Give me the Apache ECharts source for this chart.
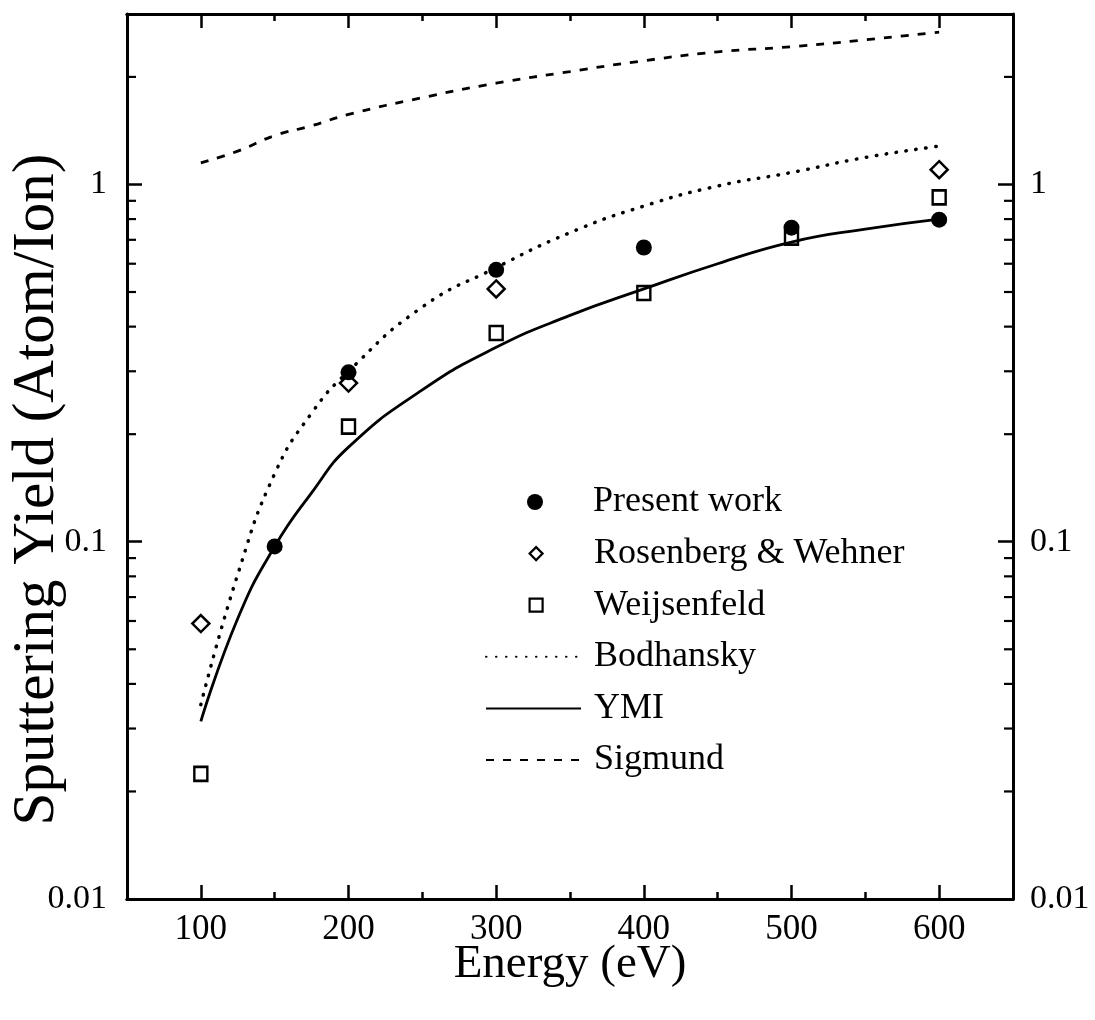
<!DOCTYPE html>
<html>
<head>
<meta charset="utf-8">
<title>Sputtering yield vs energy</title>
<script src="https://cdn.jsdelivr.net/npm/echarts@6/dist/echarts.min.js"></script>
<style>
  html, body { margin: 0; padding: 0; background: #fff; }
  #main { width: 1095px; height: 1020px; }
</style>
</head>
<body>
<div id="main"></div>
<script>
// measured points (energy in eV, yield in atom/ion)
var presentE = [150, 200, 300, 400, 500, 600];
var presentY = [0.097, 0.298, 0.577, 0.666, 0.757, 0.797];
var rosenE = [100, 200, 300, 600];
var rosenY = [0.059, 0.278, 0.51, 1.10];
var weijE = [100, 200, 300, 400, 500, 600];
var weijY = [0.0224, 0.21, 0.384, 0.497, 0.71, 0.92];

// model curves
var curveE = [100, 125, 150, 175, 200, 250, 300, 350, 400, 450, 500, 550, 600];
var bodhY = [0.035, 0.081, 0.155, 0.229, 0.30, 0.454, 0.585, 0.733, 0.87, 0.99, 1.08, 1.19, 1.28];
var ymiY = [0.0314, 0.061, 0.097, 0.137, 0.184, 0.266, 0.35, 0.43, 0.51, 0.60, 0.69, 0.75, 0.80];
var sigY = [1.15, 1.24, 1.37, 1.46, 1.57, 1.75, 1.92, 2.07, 2.22, 2.35, 2.43, 2.54, 2.67];

// ticks
var xMajorTicks = [100, 200, 300, 400, 500, 600];
var xMinorTicks = [150, 250, 350, 450, 550];
var yTickLabels = ['0.01', '0.1', '1'];
var yMinorTicks = [0.02, 0.03, 0.04, 0.05, 0.06, 0.07, 0.08, 0.09,
                   0.2, 0.3, 0.4, 0.5, 0.6, 0.7, 0.8, 0.9, 2];

var legendNames = ['Present work', 'Rosenberg & Wehner', 'Weijsenfeld', 'Bodhansky', 'YMI', 'Sigmund'];

function pairs(xs, ys) {
    return xs.map(function (x, i) { return [x, ys[i]]; });
}

var FONT = 'Liberation Serif';
var X_MIN = 50, X_MAX = 650;

function yLabel(v) {
    var l = Math.log10(v);
    var e = Math.round(l);
    if (Math.abs(l - e) > 1e-6) return '';
    return yTickLabels[e + 2] || '';
}

function xAxisBase(pos, ticks, len, labels) {
    return {
        type: 'value', position: pos, min: X_MIN, max: X_MAX,
        axisLine: { show: true, onZero: false, lineStyle: { color: '#000', width: 3 } },
        splitLine: { show: false },
        axisTick: { show: true, inside: true, length: len, customValues: ticks,
                    lineStyle: { color: '#000', width: 2.5 } },
        axisLabel: labels ? {
            show: true, customValues: ticks, margin: 13,
            color: '#000', fontFamily: FONT, fontSize: 35
        } : { show: false }
    };
}

function yAxisBase(pos, showLabel) {
    return {
        type: 'log', logBase: 10, position: pos, min: 0.01, max: 3,
        axisLine: { show: true, onZero: false, lineStyle: { color: '#000', width: 3 } },
        splitLine: { show: false },
        minorTick: { show: false },
        axisTick: { show: true, inside: true, length: 15, lineStyle: { color: '#000', width: 2.5 } },
        axisLabel: {
            show: showLabel, formatter: yLabel, margin: pos === 'left' ? 20 : 17,
            color: '#000', fontFamily: FONT, fontSize: 34,
            showMaxLabel: false
        }
    };
}

var myChart = echarts.init(document.getElementById('main'), null, { renderer: 'canvas' });

var bottomAxis = xAxisBase('bottom', xMajorTicks, 14, true);
bottomAxis.name = 'Energy (eV)';
bottomAxis.nameLocation = 'middle';
bottomAxis.nameGap = 42;
bottomAxis.nameMoveOverlap = false;
bottomAxis.nameTextStyle = { color: '#000', fontFamily: FONT, fontSize: 47 };

var leftAxis = yAxisBase('left', true);
leftAxis.name = 'Sputtering Yield (Atom/Ion)';
leftAxis.nameLocation = 'middle';
leftAxis.nameGap = 60;
leftAxis.nameMoveOverlap = false;
leftAxis.nameTextStyle = { color: '#000', fontFamily: FONT, fontSize: 59, padding: [0, 66, 0, 0] };

var legends = legendNames.map(function (name, i) {
    var centre = 502 + i * 51.6;
    var isLine = i >= 3;
    var h = isLine ? 14 : (i === 0 ? 16 : 13);
    var w = isLine ? 95 : h;
    var left = isLine ? 485 : 535 - h / 2;
    var pad = 593 - (left + w + 5);
    return {
        data: [name],
        left: left,
        top: centre - 18,
        padding: 0,
        selectedMode: false,
        itemWidth: w,
        itemHeight: h,
        itemStyle: isLine ? { opacity: 0 } : (i === 0 ? { borderWidth: 0 } : { borderWidth: 2.2 }),
        textStyle: { color: '#000', fontFamily: FONT, fontSize: 36, padding: [0, 0, 0, pad] }
    };
});

// minor ticks on the log axes, drawn at both sides of the grid
function minorTickItem(params, api) {
    var cs = params.coordSys;
    var y = api.coord([api.value(0), api.value(1)])[1];
    var s = { stroke: '#000', lineWidth: 2.2 };
    return {
        type: 'group',
        children: [
            { type: 'line', shape: { x1: cs.x, y1: y, x2: cs.x + 9, y2: y }, style: s },
            { type: 'line', shape: { x1: cs.x + cs.width - 9, y1: y, x2: cs.x + cs.width, y2: y }, style: s }
        ]
    };
}

var option = {
    backgroundColor: '#fff',
    animation: false,
    grid: { left: 127, right: 82, top: 14, bottom: 121, containLabel: false, outerBoundsMode: 'none' },
    legend: legends,
    xAxis: [
        bottomAxis,
        xAxisBase('bottom', xMinorTicks, 7, false),
        xAxisBase('top', xMajorTicks, 14, false),
        xAxisBase('top', xMinorTicks, 7, false)
    ],
    yAxis: [leftAxis, yAxisBase('right', true)],
    series: [
        {
            name: 'Bodhansky', type: 'line', data: pairs(curveE, bodhY),
            smooth: true, symbol: 'none', showSymbol: false,
            itemStyle: { color: '#000' },
            lineStyle: { color: '#000', width: 3.5, type: [0.5, 9.5], cap: 'round' }
        },
        {
            name: 'YMI', type: 'line', data: pairs(curveE, ymiY),
            smooth: true, symbol: 'none', showSymbol: false,
            itemStyle: { color: '#000' },
            lineStyle: { color: '#000', width: 2.8, type: 'solid' }
        },
        {
            name: 'Sigmund', type: 'line', data: pairs(curveE, sigY),
            smooth: true, symbol: 'none', showSymbol: false,
            itemStyle: { color: '#000' },
            lineStyle: { color: '#000', width: 2.8, type: [8, 9] }
        },
        {
            name: 'Rosenberg & Wehner', type: 'scatter', data: pairs(rosenE, rosenY),
            symbol: 'diamond', symbolSize: 17,
            itemStyle: { color: '#fff', borderColor: '#000', borderWidth: 2.5, opacity: 1 }
        },
        {
            name: 'Weijsenfeld', type: 'scatter', data: pairs(weijE, weijY),
            symbol: 'rect', symbolSize: [13, 14],
            itemStyle: { color: '#fff', borderColor: '#000', borderWidth: 2.5, opacity: 1 }
        },
        {
            name: 'Present work', type: 'scatter', data: pairs(presentE, presentY),
            symbol: 'circle', symbolSize: 16,
            itemStyle: { color: '#000', opacity: 1 }
        },
        {
            type: 'custom', silent: true,
            data: yMinorTicks.map(function (v) { return [X_MIN, v]; }),
            renderItem: minorTickItem, z: 5
        }
    ]
};

myChart.setOption(option);
</script>
</body>
</html>
